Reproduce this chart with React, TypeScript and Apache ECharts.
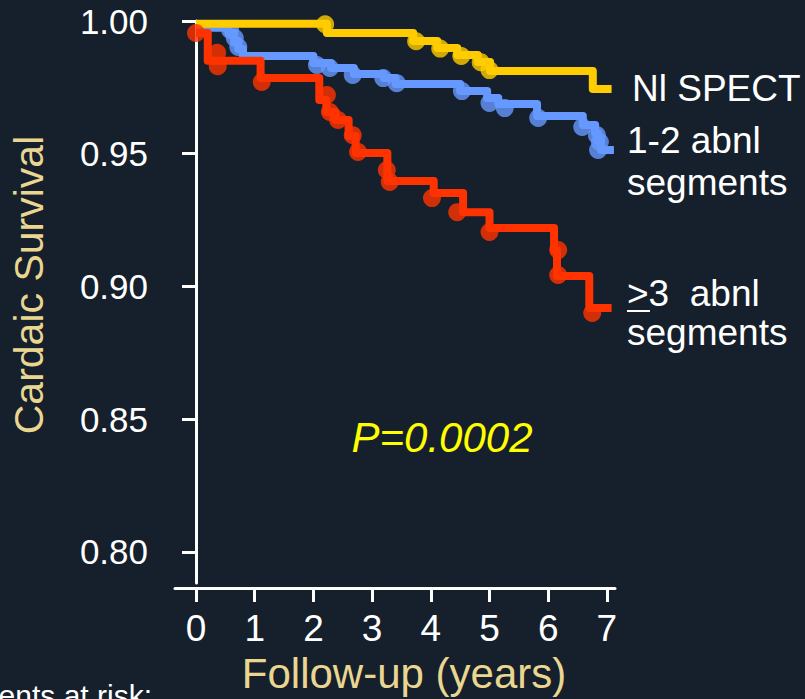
import React, { useEffect, useRef } from "react";
import * as echarts from "echarts";

// ---- Data ----
const xTickValues = [0, 1, 2, 3, 4, 5, 6, 7];
const yTickValues = [0.8, 0.85, 0.9, 0.95, 1.0];

// Kaplan–Meier step points [years, survival]
const nlSpectSteps = [
  [0, 0.999], [2.23, 0.9955], [3.7, 0.9925], [4.11, 0.9898], [4.45, 0.9872],
  [4.8, 0.9846], [5.01, 0.9812], [6.76, 0.9744], [7.08, 0.9744],
];
const nlSpectCensored = [
  [2.2, 0.9988], [3.75, 0.9924], [4.16, 0.9896], [4.52, 0.9868], [4.85, 0.9845], [5.0, 0.9815],
];

const abnl12Steps = [
  [0, 0.9975], [0.55, 0.9955], [0.65, 0.9925], [0.72, 0.9895], [0.8, 0.9868],
  [2.0, 0.9842], [2.3, 0.9823], [2.69, 0.98], [3.2, 0.9785], [3.4, 0.9763],
  [4.5, 0.9736], [4.96, 0.971], [5.15, 0.9687], [5.81, 0.9642], [6.59, 0.9608],
  [6.8, 0.9578], [6.85, 0.9548], [6.9, 0.9514], [7.12, 0.9514],
];
const abnl12Censored = [
  [0.58, 0.9966], [0.66, 0.9936], [0.72, 0.9902], [2.06, 0.9834], [2.28, 0.9823],
  [2.67, 0.9797], [3.19, 0.9785], [3.42, 0.9766], [4.53, 0.9736], [5.0, 0.9691],
  [5.26, 0.9672], [5.83, 0.9635], [6.58, 0.9601], [6.83, 0.957], [6.88, 0.9544], [6.85, 0.9514],
];

const abnl3Steps = [
  [0, 0.9955], [0.2, 0.985], [1.1, 0.9785], [2.1, 0.9702], [2.22, 0.9657],
  [2.38, 0.9627], [2.6, 0.9567], [2.72, 0.9503], [3.26, 0.9397], [4.05, 0.9352],
  [4.55, 0.928], [5.0, 0.922], [6.1, 0.9137], [6.15, 0.904], [6.7, 0.8919], [7.08, 0.8919],
];
const abnl3Censored = [
  [0.0, 0.9955], [0.36, 0.988], [0.37, 0.983], [1.12, 0.977], [2.23, 0.9721],
  [2.28, 0.9657], [2.42, 0.9627], [2.67, 0.957], [2.76, 0.9507], [3.25, 0.9439],
  [3.3, 0.9394], [4.02, 0.9333], [4.45, 0.928], [5.0, 0.9205], [6.17, 0.9137],
  [6.17, 0.9043], [6.75, 0.89],
];

const YELLOW = "#ffcc00";
const BLUE = "#6699ff";
const RED = "#ff3300";
const BG = "#161f2c";
const TAN = "#e9d690";
const FONT = "'Liberation Sans', Arial, sans-serif";

export default function App() {
  const ref = useRef<HTMLDivElement>(null);

  useEffect(() => {
    document.body.style.margin = "0";
    document.body.style.background = BG;
    if (!ref.current) return;
    const chart = echarts.init(ref.current, undefined, { renderer: "svg" });

    const stepLine = (name: string, data: number[][], color: string, z: number) => ({
      name,
      type: "line",
      step: "end",
      data,
      showSymbol: false,
      symbol: "none",
      clip: false,
      z,
      lineStyle: { color, width: 8, join: "round" },
      emphasis: { disabled: true },
    });
    const dots = (name: string, data: number[][], color: string, z: number) => ({
      name: name + " censored",
      type: "scatter",
      data,
      symbol: "circle",
      symbolSize: 18,
      clip: false,
      z,
      itemStyle: { color },
      emphasis: { disabled: true },
    });

    const textStyle = (text: string, size: number, color: string, extra: any = {}) => ({
      text,
      fill: color,
      font: `${extra.fontStyle || "normal"} ${size}px ${FONT}`,
      textAlign: extra.align || "left",
      textVerticalAlign: "middle",
    });

    chart.setOption({
      animation: false,
      backgroundColor: BG,
      grid: { left: 175, right: 190, top: 21, bottom: 116, containLabel: false },
      xAxis: {
        type: "value",
        min: -0.358,
        max: 7.138,
        offset: 5,
        axisLine: { show: true, lineStyle: { color: "#ffffff", width: 3 } },
        axisTick: {
          show: true,
          length: 14,
          customValues: xTickValues,
          lineStyle: { color: "#ffffff", width: 3 },
        },
        axisLabel: {
          customValues: xTickValues,
          color: "#ffffff",
          fontSize: 37,
          fontFamily: FONT,
          margin: 22,
          formatter: (v: number) => String(v),
        },
        splitLine: { show: false },
      },
      yAxis: {
        type: "value",
        min: 0.78832,
        max: 1.0,
        offset: 5,
        axisLine: { show: true, lineStyle: { color: "#ffffff", width: 3 } },
        axisTick: {
          show: true,
          length: 14,
          customValues: yTickValues,
          lineStyle: { color: "#ffffff", width: 3 },
        },
        axisLabel: {
          customValues: yTickValues,
          color: "#ffffff",
          fontSize: 35,
          fontFamily: FONT,
          margin: 22,
          formatter: (v: number) => v.toFixed(2),
        },
        splitLine: { show: false },
      },
      series: [
        stepLine("1-2 abnl segments", abnl12Steps, BLUE, 2),
        dots("1-2 abnl segments", abnl12Censored, BLUE, 3),
        stepLine("Nl SPECT", nlSpectSteps, YELLOW, 4),
        dots("Nl SPECT", nlSpectCensored, YELLOW, 5),
        stepLine(">3 abnl segments", abnl3Steps, RED, 6),
        dots(">3 abnl segments", abnl3Censored, RED, 7),
      ],
      graphic: [
        { type: "text", x: 632, y: 88, style: textStyle("Nl SPECT", 37, "#ffffff") },
        { type: "text", x: 627, y: 140, style: textStyle("1-2 abnl", 37, "#ffffff") },
        { type: "text", x: 627, y: 182, style: textStyle("segments", 37, "#ffffff") },
        { type: "text", x: 627, y: 293, style: textStyle(">3  abnl", 37, "#ffffff") },
        {
          type: "line",
          shape: { x1: 627, y1: 311, x2: 650, y2: 311 },
          style: { stroke: "#ffffff", lineWidth: 2 },
        },
        { type: "text", x: 627, y: 332, style: textStyle("segments", 37, "#ffffff") },
        {
          type: "text",
          x: 442,
          y: 437,
          style: textStyle("P=0.0002", 42, "#ffff00", { fontStyle: "italic", align: "center" }),
        },
        {
          type: "text",
          x: 29,
          y: 285,
          rotation: Math.PI / 2,
          style: textStyle("Cardaic Survival", 41, TAN, { align: "center" }),
        },
        {
          type: "text",
          x: 404,
          y: 673,
          style: textStyle("Follow-up (years)", 42, TAN, { align: "center" }),
        },
        {
          type: "text",
          x: 152,
          y: 695,
          style: textStyle("Patients at risk:", 30, "#ffffff", { align: "right" }),
        },
      ],
    });

    return () => chart.dispose();
  }, []);

  return <div ref={ref} style={{ width: 805, height: 699, background: BG }} />;
}
